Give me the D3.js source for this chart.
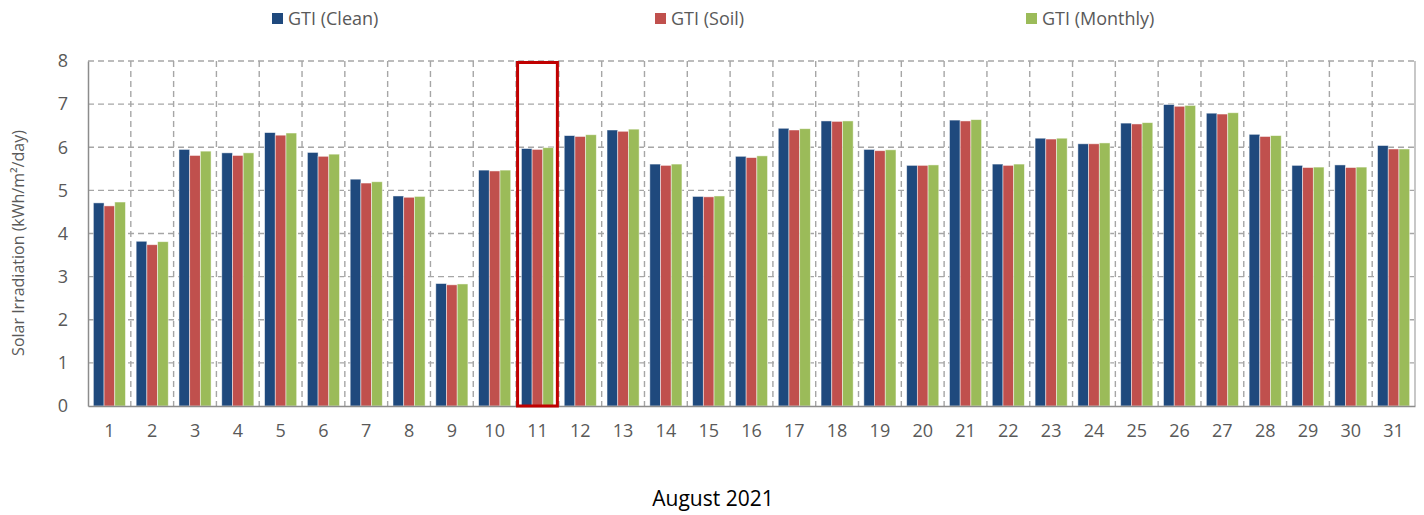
<!DOCTYPE html>
<html>
<head>
<meta charset="utf-8">
<script src="https://cdn.jsdelivr.net/npm/d3@7"></script>
<style>
  body { margin: 0; background: #fff; }
  text { font-family: "Open Sans", "Noto Sans", sans-serif; }
</style>
</head>
<body>
<svg id="chart" width="1424" height="515"></svg>
<script>
//----------------------------------------------------------- DATA
var days = d3.range(1, 32).map(String);
var seriesNames = ["GTI (Clean)", "GTI (Soil)", "GTI (Monthly)"];
var gtiClean = [4.71,3.82,5.95,5.87,6.34,5.88,5.26,4.87,2.84,5.47,5.97,6.27,6.40,5.61,4.86,5.79,6.44,6.61,5.95,5.58,6.63,5.61,6.21,6.08,6.56,6.99,6.79,6.30,5.58,5.59,6.04];
var gtiSoil = [4.64,3.74,5.81,5.81,6.28,5.79,5.17,4.84,2.81,5.45,5.95,6.25,6.37,5.58,4.85,5.76,6.40,6.60,5.92,5.58,6.61,5.58,6.19,6.08,6.54,6.95,6.77,6.25,5.53,5.53,5.96];
var gtiMonthly = [4.73,3.81,5.91,5.87,6.33,5.84,5.20,4.86,2.83,5.47,5.99,6.29,6.42,5.61,4.87,5.80,6.43,6.61,5.94,5.59,6.64,5.61,6.21,6.10,6.57,6.97,6.80,6.27,5.54,5.54,5.96];
var yTicks = [0,1,2,3,4,5,6,7,8];
var highlightDay = "11";
var colors = ["#1f497d", "#c0504d", "#9bbb59"];

//----------------------------------------------------------- CHART
var svg = d3.select("#chart");
var margin = {left: 88, right: 9, top: 61, bottom: 109};
var W = 1424, H = 515;

var x = d3.scaleBand().domain(days).range([margin.left, W - margin.right]).paddingInner(0).paddingOuter(0);
var xs = d3.scaleBand().domain(seriesNames).range([0, x.bandwidth()]).paddingInner(0).paddingOuter(0.5);
var y = d3.scaleLinear().domain([0, 8]).range([H - margin.bottom, margin.top]);

var rows = days.map(function(d, i){
	return {day: d, values: [gtiClean[i], gtiSoil[i], gtiMonthly[i]]};
});

// grid
var grid = svg.append("g").attr("class", "grid");
grid.selectAll("line.h").data(yTicks.slice(1)).enter().append("line")
	.attr("x1", margin.left).attr("x2", W - margin.right)
	.attr("y1", d => y(d)).attr("y2", d => y(d))
	.attr("stroke", "#a6a6a6").attr("stroke-width", 1.4).attr("stroke-dasharray", "6,4");
grid.selectAll("line.v").data(days.slice(1)).enter().append("line")
	.attr("x1", d => x(d)).attr("x2", d => x(d))
	.attr("y1", y(8)).attr("y2", y(0))
	.attr("stroke", "#a6a6a6").attr("stroke-width", 1.4).attr("stroke-dasharray", "6,4");
svg.append("line")
	.attr("x1", W - margin.right).attr("x2", W - margin.right)
	.attr("y1", y(8)).attr("y2", y(0))
	.attr("stroke", "#b0b0b0").attr("stroke-width", 1.4);

// bars
var groups = svg.append("g").selectAll("g").data(rows).enter().append("g")
	.attr("transform", d => "translate(" + x(d.day) + ",0)");
groups.selectAll("rect").data(d => d.values.map((v, k) => ({k: k, v: v}))).enter().append("rect")
	.attr("x", d => xs(seriesNames[d.k]))
	.attr("width", xs.bandwidth())
	.attr("y", d => y(d.v))
	.attr("height", d => y(0) - y(d.v))
	.attr("fill", d => colors[d.k])
	.attr("stroke", "#ffffff").attr("stroke-opacity", 0.6).attr("stroke-width", 0.8);

// axes
var yAxis = svg.append("g").attr("transform", "translate(" + margin.left + ",0)")
	.call(d3.axisLeft(y).tickValues(yTicks).tickSize(0).tickPadding(20));
yAxis.select(".domain").attr("stroke", "#8c8c8c").attr("stroke-width", 1.5);
yAxis.selectAll("text").attr("font-size", 18).attr("fill", "#595959");

var xAxis = svg.append("g").attr("transform", "translate(0," + y(0) + ")")
	.call(d3.axisBottom(x).tickSize(0).tickPadding(18));
xAxis.select(".domain").attr("stroke", "#8c8c8c").attr("stroke-width", 1.5);
xAxis.selectAll("text").attr("font-size", 18).attr("fill", "#595959");

// highlight box on day 11
svg.append("rect")
	.attr("x", x(highlightDay) + 1.5).attr("y", y(8) + 1.5)
	.attr("width", x.bandwidth() - 3).attr("height", y(0) - y(8) - 1.5)
	.attr("fill", "none").attr("stroke", "#c00000").attr("stroke-width", 3);

// titles
svg.append("text")
	.attr("transform", "translate(24,243) rotate(-90)")
	.attr("text-anchor", "middle")
	.attr("font-size", 16).attr("fill", "#595959")
	.text("Solar Irradiation (kWh/m²/day)");
svg.append("text")
	.attr("x", 713).attr("y", 506)
	.attr("text-anchor", "middle")
	.attr("font-size", 21).attr("fill", "#000")
	.text("August 2021");

// legend
var legendX = [272, 655, 1026];
var legend = svg.append("g").selectAll("g").data(seriesNames).enter().append("g")
	.attr("transform", (d, i) => "translate(" + legendX[i] + ",13)");
legend.append("rect").attr("width", 11).attr("height", 11).attr("fill", (d, i) => colors[i]);
legend.append("text").attr("x", 16).attr("y", 12)
	.attr("font-size", 18).attr("fill", "#595959")
	.text(d => d);
</script>
</body>
</html>
